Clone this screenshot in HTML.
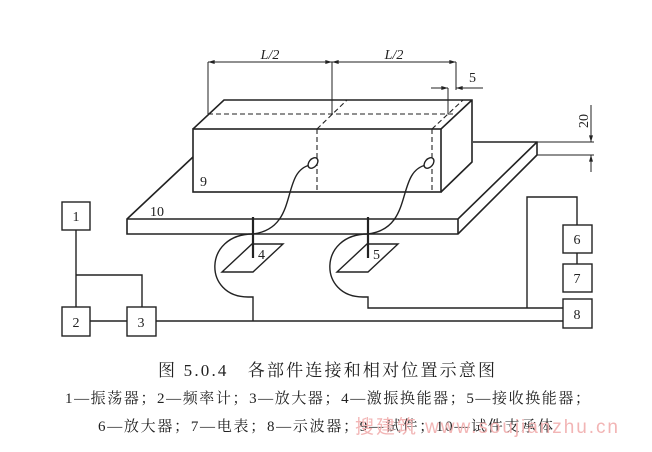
<!DOCTYPE html>
<html><head><meta charset="utf-8"><style>
html,body{margin:0;padding:0;background:#fff;}
svg{display:block;}
text{font-family:"Liberation Serif","Noto Serif CJK SC",serif;fill:#222;}
</style></head><body>
<svg width="652" height="452" viewBox="0 0 652 452" xmlns="http://www.w3.org/2000/svg">
<defs>
<marker id="a" viewBox="0 0 10 6" refX="10" refY="3" markerWidth="8" markerHeight="4" orient="auto-start-reverse"><path d="M0,0L10,3L0,6z" fill="#222"/></marker>
</defs>
<g fill="none" stroke="#222" stroke-width="1.6">
<path d="M193,157 L127,219 L127,234 L458,234 L537,155 L537,142 L473,142"/>
<path d="M127,219 L458,219 L537,142 M458,219 L458,234"/>
<rect x="193" y="129" width="248" height="63" fill="#fff"/>
<path d="M193,129 L224,100 L472,100 L472,162 L441,192 M441,129 L472,100"/>
</g>
<g fill="none" stroke="#222" stroke-width="1.1" stroke-dasharray="5,3">
<path d="M208,114 L456,114 M317,129 L317,192 M317,129 L347,100 M432,129 L432,192 M432,129 L463,100"/>
</g>
<g fill="none" stroke="#222" stroke-width="1">
<path d="M208,62 L208,114 M332,62 L332,114 M456,62 L456,90 M448,88 L448,114"/>
<path d="M208,62 L332,62" marker-start="url(#a)" marker-end="url(#a)"/>
<path d="M332,62 L456,62" marker-start="url(#a)" marker-end="url(#a)"/>
<path d="M431,88 L448,88" marker-end="url(#a)"/>
<path d="M483,88 L456,88" marker-end="url(#a)"/>
<path d="M537,142 L594,142 M537,155 L594,155"/>
<path d="M591,105 L591,142" marker-end="url(#a)"/>
<path d="M591,172 L591,155" marker-end="url(#a)"/>
</g>
<g fill="none" stroke="#222" stroke-width="1.4">
<path d="M253,234 C300,228 280,172 310,165"/>
<path d="M368,234 C415,228 395,172 426,165"/>
<ellipse cx="313" cy="163" rx="4" ry="6" transform="rotate(40 313 163)" fill="#fff"/>
<ellipse cx="429" cy="163" rx="4" ry="6" transform="rotate(40 429 163)" fill="#fff"/>
<path d="M222,272 L252,244 L283,244 L253,272 Z"/>
<path d="M337,272 L367,244 L398,244 L368,272 Z"/>
<path d="M253,234 C203,234 203,297 248,297 L253,297 L253,321"/>
<path d="M368,234 C318,234 318,297 363,297 L368,297 L368,308 L563,308"/>
<rect x="62" y="202" width="28" height="28"/>
<rect x="62" y="307" width="28" height="29"/>
<rect x="127" y="307" width="29" height="29"/>
<rect x="563" y="225" width="29" height="28"/>
<rect x="563" y="264" width="29" height="28"/>
<rect x="563" y="299" width="29" height="29"/>
<path d="M76,230 L76,307 M76,275 L142,275 L142,307 M90,321 L127,321 M156,321 L563,321"/>
<path d="M527,308 L527,197 L577,197 L577,225 M577,253 L577,264"/>
</g>
<g stroke="#222" stroke-width="2.2"><path d="M253,217 L253,258 M368,217 L368,258"/></g>
<g font-size="14">
<text x="270" y="59" font-style="italic" text-anchor="middle">L/2</text>
<text x="394" y="59" font-style="italic" text-anchor="middle">L/2</text>
<text x="469" y="82">5</text>
<text x="588" y="128" transform="rotate(-90 588 128)">20</text>
<text x="200" y="186">9</text>
<text x="150" y="216">10</text>
<text x="258" y="259">4</text>
<text x="373" y="259">5</text>
<text x="76" y="221" text-anchor="middle">1</text>
<text x="76" y="327" text-anchor="middle">2</text>
<text x="141" y="327" text-anchor="middle">3</text>
<text x="577" y="244" text-anchor="middle">6</text>
<text x="577" y="283" text-anchor="middle">7</text>
<text x="577" y="319" text-anchor="middle">8</text>
</g>
<text x="158" y="376" font-size="17" textLength="337" lengthAdjust="spacing">图 5.0.4　各部件连接和相对位置示意图</text>
<text x="65" y="403" font-size="15" textLength="525" lengthAdjust="spacing">1—振荡器；2—频率计；3—放大器；4—激振换能器；5—接收换能器；</text>
<text x="98" y="431" font-size="15" textLength="455" lengthAdjust="spacing">6—放大器；7—电表；8—示波器；9—试件；10—试件支承体</text>
<text x="355" y="433" font-size="19" textLength="263" lengthAdjust="spacing" style="fill:#f2b5b5;font-family:'Liberation Sans','Noto Sans CJK SC',sans-serif">搜建筑 www.soujianzhu.cn</text>
</svg>
</body></html>
